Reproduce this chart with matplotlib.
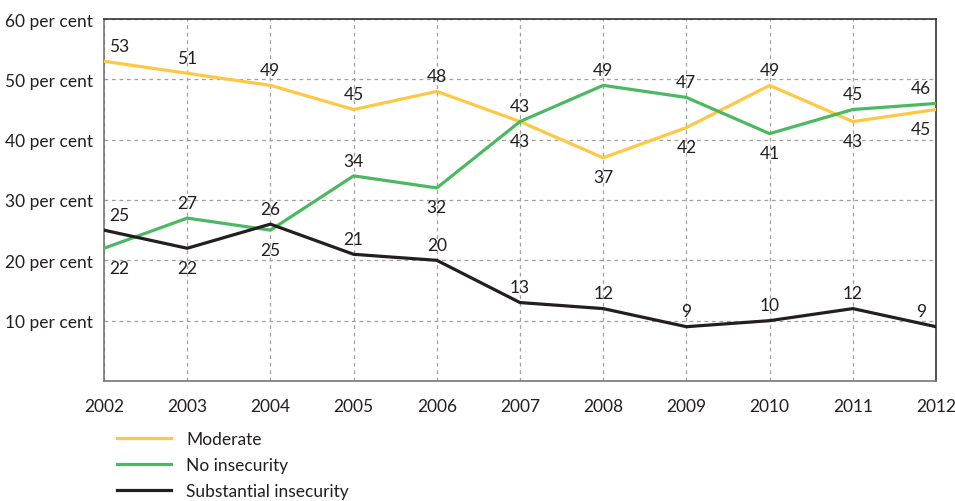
import matplotlib.pyplot as plt

plt.rcParams['font.family'] = ['Lato', 'DejaVu Sans']

years = [2002, 2003, 2004, 2005, 2006, 2007, 2008, 2009, 2010, 2011, 2012]
moderate = [53, 51, 49, 45, 48, 43, 37, 42, 49, 43, 45]
no_insecurity = [22, 27, 25, 34, 32, 43, 49, 47, 41, 45, 46]
substantial = [25, 22, 26, 21, 20, 13, 12, 9, 10, 12, 9]

# label side for each point: 1 = above the line, -1 = below
moderate_side = [1, 1, 1, 1, 1, -1, -1, -1, 1, -1, -1]
no_insecurity_side = [-1, 1, -1, 1, -1, 1, 1, 1, -1, 1, 1]
substantial_side = [1, -1, 1, 1, 1, 1, 1, 1, 1, 1, 1]

y_ticks = [10, 20, 30, 40, 50, 60]

TEXT = '#231f20'
FS = 12.5
series = [
    ('Moderate', moderate, moderate_side, '#ffc844'),
    ('No insecurity', no_insecurity, no_insecurity_side, '#4cb962'),
    ('Substantial insecurity', substantial, substantial_side, '#231f20'),
]

fig = plt.figure(figsize=(9.55, 5.02), dpi=100)
ax = fig.add_axes([104 / 955, 1 - 382 / 502, 832 / 955, 362 / 502])

for name, vals, sides, color in series:
    ax.plot(years, vals, color=color, linewidth=2.3, label=name, zorder=3)
    for i, (x, v, s) in enumerate(zip(years, vals, sides)):
        dx = 0
        if i == 0:
            dx = 11
        elif i == len(years) - 1:
            dx = -11
        dy = 11 if s > 0 else -14
        ax.annotate(str(v), (x, v), xytext=(dx, dy), textcoords='offset points',
                    ha='center', va='center', fontsize=FS, color=TEXT, zorder=4)

ax.set_xlim(2002, 2012)
ax.set_ylim(0, 60)
ax.set_xticks(years)
ax.set_xticklabels([str(y) for y in years])
ax.set_yticks(y_ticks)
ax.set_yticklabels([f'{t} per cent' for t in y_ticks])
ax.tick_params(length=0, labelsize=FS, colors=TEXT)
ax.tick_params(axis='x', pad=12)
ax.tick_params(axis='y', pad=8)
ax.grid(True, color='#a0a0a0', linestyle=(0, (3, 3)), linewidth=0.9)
for side in ['top', 'right']:
    ax.spines[side].set_color('#333333')
for side in ['left', 'bottom']:
    ax.spines[side].set_color('#777777')
for sp in ax.spines.values():
    sp.set_linewidth(1.2)

fig.legend(loc='upper left', bbox_to_anchor=(108 / 955, 1 - 423 / 502),
           frameon=False, fontsize=FS, handlelength=3.15, handletextpad=0.86,
           labelspacing=0.58, borderpad=0, labelcolor=TEXT)

fig.savefig('out.png', dpi=100)
